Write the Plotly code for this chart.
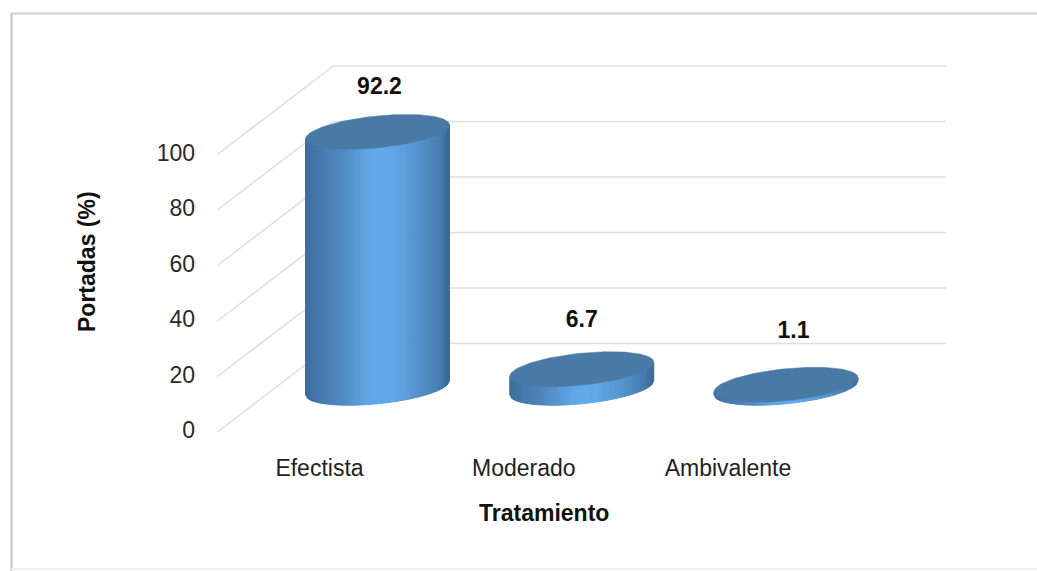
import numpy as np
import plotly.graph_objects as go

# ---- data ----
categories = ["Efectista", "Moderado", "Ambivalente"]
values = [92.2, 6.7, 1.1]
value_labels = ["92.2", "6.7", "1.1"]
y_ticks = [0, 20, 40, 60, 80, 100]

# ---- page geometry ----
W, H = 1037, 571
PX_PER_CAT = 204.25      # pixels per category
PX_PER_PCT = 2.775       # pixels per percentage point
X0_PX, Y0_PX = 319.5, 432.0   # where category 0 / value 0 fall on the page

# ---- oblique projection of the chart box, in axis units ----
DEPTH_X = 116 / PX_PER_CAT
DEPTH_Y = 88.5 / PX_PER_PCT
# ---- cylinder shape, in axis units ----
RADIUS_X = 72 / PX_PER_CAT
RADIUS_Y = 16 / PX_PER_PCT
SHEAR_Y = 7 / PX_PER_PCT

LABEL_NUDGE_X = [2, 0, 7.5]      # px
LABEL_NUDGE_Y = [44, 48, 52.5]   # px

FONT = "Liberation Sans, Arial, sans-serif"
GRID = "#DEDEDE"
CAP = "#497AA6"
STOPS_U = [-1.0, -0.85, -0.5, -0.1, 0.2, 0.6, 0.88, 1.0]
STOPS_R = [62, 68, 80, 98, 98, 84, 70, 60]
STOPS_G = [108, 118, 138, 168, 168, 146, 124, 104]
STOPS_B = [155, 170, 192, 232, 232, 204, 174, 145]

fig = go.Figure()

# box: side-wall diagonals and back-wall gridlines
gx, gy = [], []
for v in y_ticks:
    gx += [-0.5, -0.5 + DEPTH_X, 2.5 + DEPTH_X, None]
    gy += [v, v + DEPTH_Y, v + DEPTH_Y, None]
fig.add_trace(go.Scatter(x=gx, y=gy, mode="lines", hoverinfo="skip", showlegend=False,
                         line=dict(color=GRID, width=1.5)))

# cylinders: side surface as thin vertical strips sharing one colour per strip position
N = 70
edges = np.linspace(-1, 1, N + 1)
for k in range(N):
    u0, u1 = edges[k], edges[k + 1]
    um = 0.5 * (u0 + u1)
    col = "rgb(%d,%d,%d)" % (np.interp(um, STOPS_U, STOPS_R),
                             np.interp(um, STOPS_U, STOPS_G),
                             np.interp(um, STOPS_U, STOPS_B))
    sx, sy = [], []
    for i, val in enumerate(values):
        cx = i + DEPTH_X / 2
        base = DEPTH_Y / 2
        uu = np.array([u0, u1])
        front = SHEAR_Y * uu - RADIUS_Y * np.sqrt(np.clip(1 - uu ** 2, 0, 1))
        xs = cx + RADIUS_X * uu
        sx += [xs[0], xs[1], xs[1], xs[0], xs[0], None]
        sy += [base + front[0], base + front[1], base + val + SHEAR_Y * u1,
               base + val + SHEAR_Y * u0, base + front[0], None]
    fig.add_trace(go.Scatter(x=sx, y=sy, mode="lines", fill="toself", fillcolor=col,
                             line=dict(color=col, width=1), hoverinfo="skip", showlegend=False))

# cylinders: top caps
t = np.linspace(0, 2 * np.pi, 121)
for i, val in enumerate(values):
    cx = i + DEPTH_X / 2
    base = DEPTH_Y / 2
    fig.add_trace(go.Scatter(x=cx + RADIUS_X * np.cos(t),
                             y=base + val + SHEAR_Y * np.cos(t) + RADIUS_Y * np.sin(t),
                             mode="lines", fill="toself", fillcolor=CAP,
                             line=dict(color=CAP, width=0.5), hoverinfo="skip", showlegend=False))

# value labels
fig.add_trace(go.Scatter(
    x=[i + DEPTH_X / 2 + LABEL_NUDGE_X[i] / PX_PER_CAT for i in range(len(values))],
    y=[DEPTH_Y / 2 + v + LABEL_NUDGE_Y[i] / PX_PER_PCT for i, v in enumerate(values)],
    mode="text", text=value_labels, textposition="middle center", hoverinfo="skip", showlegend=False,
    textfont=dict(family=FONT, size=23, color="#111111", weight="bold")))

fig.update_layout(
    width=W, height=H, margin=dict(l=0, r=0, t=0, b=0),
    paper_bgcolor="white", plot_bgcolor="white", showlegend=False,
    xaxis=dict(range=[-X0_PX / PX_PER_CAT, (W - X0_PX) / PX_PER_CAT], domain=[0, 1],
               tickmode="array", tickvals=list(range(len(categories))), ticktext=categories,
               tickfont=dict(family=FONT, size=23, color="#222222"),
               showgrid=False, zeroline=False, showline=False, ticks="",
               anchor="free", position=(H - 452) / H, fixedrange=True),
    yaxis=dict(range=[(Y0_PX - H) / PX_PER_PCT, Y0_PX / PX_PER_PCT], domain=[0, 1],
               tickmode="array", tickvals=y_ticks, ticktext=[str(v) for v in y_ticks],
               tickfont=dict(family=FONT, size=23, color="#2A2A2A"),
               showgrid=False, zeroline=False, showline=False, ticks="", ticklabelstandoff=22,
               ticklabelshift=-2,
               anchor="free", position=217 / W, fixedrange=True),
    annotations=[
        dict(text="<b>Tratamiento</b>", xref="paper", yref="paper", x=543.5 / W, y=1 - 513 / H,
             showarrow=False, xanchor="center", yanchor="middle",
             font=dict(family=FONT, size=23, color="#111111")),
        dict(text="<b>Portadas (%)</b>", xref="paper", yref="paper", x=87 / W, y=1 - 262 / H,
             showarrow=False, textangle=-90, xanchor="center", yanchor="middle",
             font=dict(family=FONT, size=23, color="#111111")),
    ],
    shapes=[
        dict(type="line", xref="paper", yref="paper", x0=11.5 / W, x1=11.5 / W, y0=1 - 13 / H, y1=0,
             line=dict(color="#C4C4C4", width=2)),
        dict(type="line", xref="paper", yref="paper", x0=11 / W, x1=1, y0=1 - 13.5 / H, y1=1 - 13.5 / H,
             line=dict(color="#CFCFCF", width=2)),
        dict(type="line", xref="paper", yref="paper", x0=11 / W, x1=1, y0=1 - 569 / H, y1=1 - 569 / H,
             line=dict(color="#EFEFEF", width=2)),
    ],
)

fig.write_html("out.html", config={"displayModeBar": False},
               post_script="document.body.style.margin='0';document.documentElement.style.overflow='hidden';")
